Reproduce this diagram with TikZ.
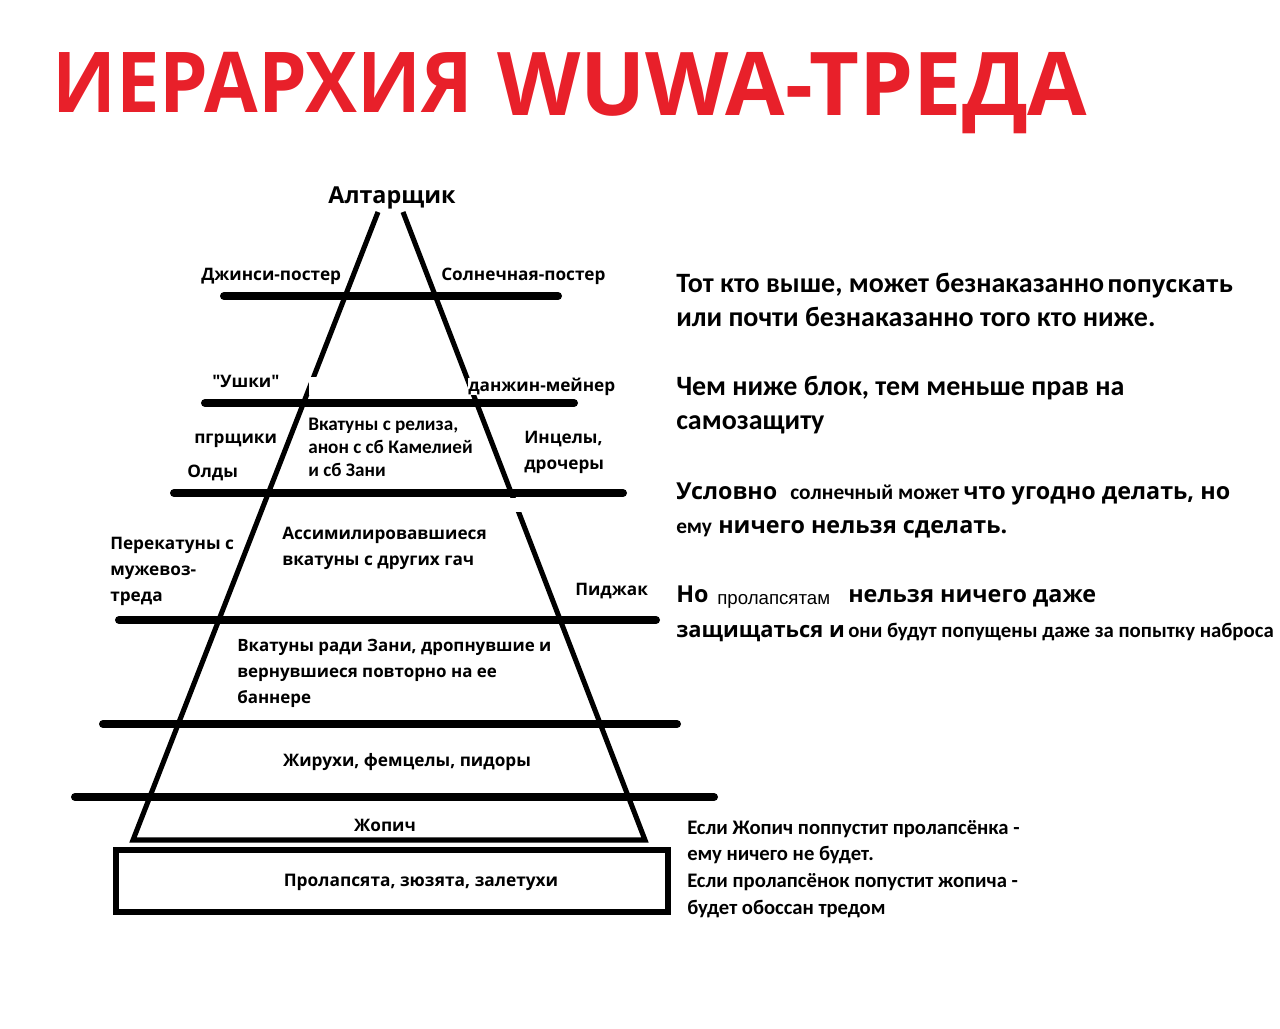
\documentclass[tikz,border=0pt]{standalone}
\usepackage{fontspec}
\setmainfont{Open Sans}
\newfontfamily\calfont{Carlito}
\newfontfamily\arialfont{Liberation Sans}
\newfontfamily\plainfont{Open Sans}
\definecolor{titlered}{HTML}{E8202A}

\begin{document}
\begin{tikzpicture}[x=0.75pt,y=-0.75pt]
    \tikzstyle{every node}=[inner sep=0pt]
    \tikzstyle{lbl}=[font=\bfseries\fontsize{12.9}{19.5}\selectfont, anchor=base west]
    \tikzstyle{block}=[lbl, anchor=north west, align=left]
    \tikzstyle{note}=[font=\calfont\bfseries\fontsize{21}{25}\selectfont, anchor=base west]
    \tikzstyle{noteos}=[font=\bfseries\fontsize{17.5}{20}\selectfont, anchor=base west]
    \tikzstyle{notesm}=[font=\calfont\bfseries\fontsize{16}{18}\selectfont, anchor=base west]
    \tikzstyle{shelf}=[line width=6pt, line cap=round]
    \tikzstyle{side}=[line width=3.8pt, line join=miter]
    \useasboundingbox (0,0) rectangle (1280,1028);

    % title
    \node[text=titlered, font=\bfseries\fontsize{63}{70}\selectfont, anchor=base west] (title1) at (52,112) {\scalebox{0.925}[1]{ИЕРАРХИЯ}};
    \node[text=titlered, font=\bfseries\fontsize{66}{72}\selectfont, anchor=base west] (title2) at (497,115) {\scalebox{0.98}[1]{WUWA-ТРЕДА}};

    % pyramid
    \coordinate (apexL) at (378,212);
    \coordinate (apexR) at (403,212);
    \coordinate (baseL) at (133,840);
    \coordinate (baseR) at (645,840);
    \draw[side] (apexL) -- (baseL) -- (baseR) -- (apexR);
    \draw[shelf] (224,296) -- (558,296);
    \draw[shelf] (205,403) -- (574,403);
    \draw[shelf] (174,493) -- (623,493);
    \draw[shelf] (119,620) -- (656,620);
    \draw[shelf] (103,724) -- (677,724);
    \draw[shelf] (75,797) -- (714,797);
    \fill[white] (309,377) rectangle (319,395);
    \fill[white] (510,498) rectangle (523,512);
    \draw[line width=4.5pt] (116,850) rectangle (668,912);

    % levels
    \node[lbl, anchor=base, font=\bfseries\fontsize{17.5}{20}\selectfont] (altar) at (392,203) {Алтарщик};
    \node[lbl] (jeansi) at (201,280) {Джинси-постер};
    \node[lbl] (solnech) at (441,280) {Солнечная-постер};
    \node[lbl, font=\plainfont\bfseries\fontsize{12.9}{16}\selectfont] (ushki) at (212,387) {"Ушки"};
    \node[lbl, fill=white] (danjin) at (468,391) {данжин-мейнер};
    \node[lbl] (pgr) at (194,443) {пгрщики};
    \node[lbl] (oldy) at (187,477) {Олды};
    \node[block, font=\calfont\bfseries\fontsize{14.4}{17.25}\selectfont] (reliz) at (308,418) {Вкатуны с релиза,\\анон с сб Камелией\\и сб Зани};
    \node[block] (incel) at (524,431) {Инцелы,\\дрочеры};
    \node[block] (assim) at (282,527) {Ассимилировавшиеся\\вкатуны с других гач};
    \node[block] (perekat) at (110,537) {Перекатуны с\\мужевоз-\\треда};
    \node[lbl] (pidjak) at (575,595) {Пиджак};
    \node[block, font=\bfseries\fontsize{12.7}{19.5}\selectfont] (zani) at (237,639) {Вкатуны ради Зани, дропнувшие и\\вернувшиеся повторно на ее\\баннере};
    \node[lbl, anchor=base] (jiruhi) at (407,766) {Жирухи, фемцелы, пидоры};
    \node[lbl, anchor=base] (jopich) at (385,831) {Жопич};
    \node[lbl, anchor=base, font=\bfseries\fontsize{13}{16}\selectfont] (prolaps) at (421,886) {Пролапсята, зюзята, залетухи};

    % rules
    \node[note] (rule1a) at (676,292) {Тот кто выше, может безнаказанно};
    \node[noteos] (rule1b) at (1107,292) {попускать};
    \node[note] (rule1c) at (676,326) {или почти безнаказанно того кто ниже.};
    \node[note] (rule2a) at (676,395) {Чем ниже блок, тем меньше прав на};
    \node[note] (rule2b) at (676,429) {самозащиту};
    \node[noteos] (rule3a) at (676,499) {Условно};
    \node[notesm] (rule3b) at (790,499) {солнечный может};
    \node[noteos] (rule3c) at (963,499) {что угодно делать, но};
    \node[notesm] (rule3d) at (676,533) {ему};
    \node[noteos] (rule3e) at (718,533) {ничего нельзя сделать.};
    \node[noteos] (rule4a) at (676,602) {Но};
    \node[anchor=base west, font=\arialfont\fontsize{14}{16}\selectfont] (rule4b) at (717,604) {пролапсятам};
    \node[noteos] (rule4c) at (848,602) {нельзя ничего даже};
    \node[noteos, font=\bfseries\fontsize{16.4}{20}\selectfont] (rule4d) at (676,637) {защищаться и};
    \node[notesm, font=\calfont\bfseries\fontsize{15.6}{18}\selectfont] (rule4e) at (848,637) {они будут попущены даже за попытку наброса};
    \node[block, font=\calfont\bfseries\fontsize{15.5}{20}\selectfont] (rule5) at (687,820) {Если Жопич поппустит пролапсёнка -\\ему ничего не будет.\\Если пролапсёнок попустит жопича -\\будет обоссан тредом};
\end{tikzpicture}
\end{document}
